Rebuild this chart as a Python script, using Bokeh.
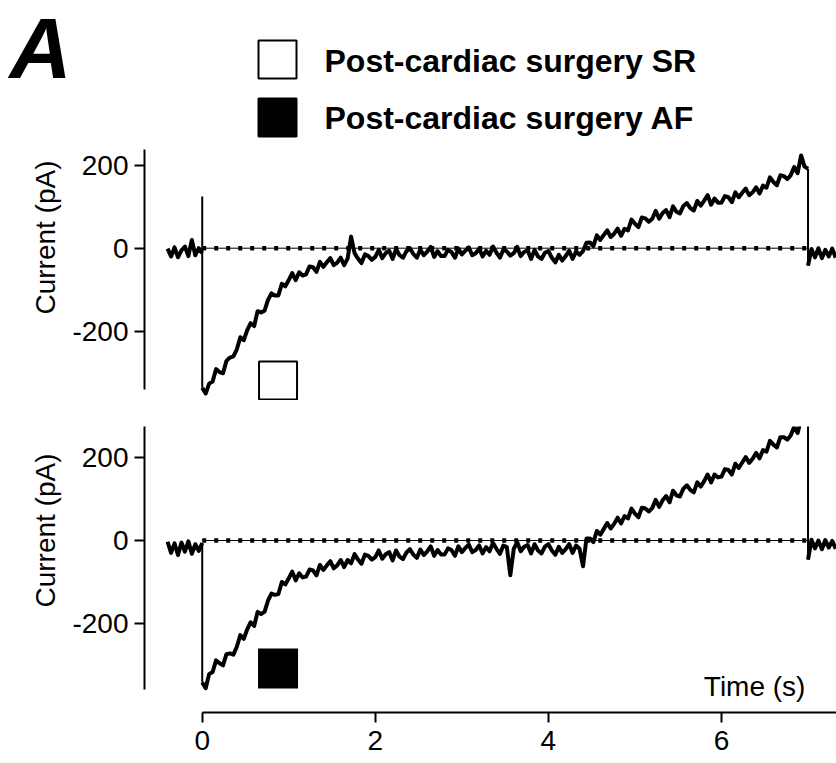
import numpy as np
from bokeh.plotting import figure
from bokeh.layouts import column
from bokeh.models import Range1d, FixedTicker, Label, PrintfTickFormatter
from bokeh.embed import file_html
from bokeh.resources import INLINE
from bokeh.core.properties import value

# ---------------- data ----------------
DT = 0.04
PRE_START = -0.40  # first sample before the test pulse (s)
TAIL_START = 7.00  # end of test pulse (s)

SERIES = ["Post-cardiac surgery SR", "Post-cardiac surgery AF"]

# Post-cardiac surgery SR  (pA)
sr_pre = [-1, -20, 2, -22, -5, 4, -19, 20, -17, 0, -12]
sr_onset = [125]
sr_test = [
    -337, -351, -327, -322, -292, -299, -302, -272, -264, -261,
    -244, -215, -222, -198, -181, -188, -152, -155, -151, -125,
    -109, -114, -114, -86, -92, -77, -60, -77, -58, -66,
    -63, -44, -46, -57, -33, -45, -34, -24, -41, -35,
    -23, -41, -25, 28, -12, -25, -36, -15, -19, -28,
    -21, -4, -24, -12, -6, -26, -2, -17, -23, -7,
    0, -14, -23, -3, -17, -8, 3, -21, -7, -19,
    -19, -4, -9, -23, -1, -15, -6, 2, -17, -12,
    -1, -20, -6, -16, 4, -11, -23, -3, -8, -18,
    -12, 3, -19, -9, -5, -26, -4, -20, -26, -11,
    -7, -23, -34, -16, -30, -19, -6, -26, -8, -16,
    -7, 13, 14, 5, 31, 20, 32, 43, 27, 35,
    47, 30, 47, 43, 69, 59, 51, 74, 72, 64,
    71, 90, 71, 85, 92, 75, 101, 88, 84, 102,
    109, 97, 91, 114, 103, 115, 128, 105, 120, 110,
    110, 126, 123, 111, 135, 123, 134, 144, 128, 135,
    147, 132, 151, 146, 171, 160, 152, 176, 174, 167,
    176, 196, 181, 224, 197, 192,
]
sr_tail = [-42, -2, -22, 0, -24, -4, -20, -1, -23]

# Post-cardiac surgery AF  (pA)
af_pre = [-3, -30, -7, -35, -5, -27, -2, -32, -9, -25, -6]
af_onset = []
af_test = [
    -342, -356, -322, -317, -289, -296, -301, -274, -272, -275,
    -256, -228, -237, -214, -197, -206, -172, -177, -172, -145,
    -128, -131, -129, -100, -106, -91, -75, -96, -79, -89,
    -87, -70, -72, -84, -59, -71, -60, -50, -67, -60,
    -47, -64, -47, -55, -33, -46, -56, -34, -37, -46,
    -40, -24, -44, -33, -28, -48, -24, -39, -45, -29,
    -21, -34, -42, -22, -35, -26, -14, -37, -23, -34,
    -34, -19, -23, -37, -14, -28, -18, -10, -28, -23,
    -12, -31, -16, -26, -6, -20, -32, -12, -16, -84,
    -20, -4, -26, -15, -11, -31, -9, -24, -31, -15,
    -9, -24, -34, -15, -30, -21, -9, -30, -12, -20,
    -62, 5, 5, -4, 23, 14, 28, 42, 29, 40,
    55, 41, 59, 53, 77, 65, 56, 79, 77, 70,
    78, 98, 81, 97, 107, 92, 120, 109, 106, 125,
    133, 122, 116, 140, 130, 143, 159, 140, 159, 152,
    154, 172, 170, 159, 185, 175, 188, 201, 187, 197,
    211, 198, 218, 214, 240, 231, 224, 249, 249, 243,
    253, 274, 259, 293, 287, 281,
]
af_tail = [-46, 2, -19, 0, -21, 1, -17, -1, -20]

ZERO_T = [0.0, 7.0]
ZERO_V = [0, 0]

X_TICKS = [0, 2, 4, 6]
Y_TICKS = [-200, 0, 200]

# ---------------- helpers ----------------
FONT = "Liberation Sans"
W = 836


def segments(pre, onset, test, tail):
    """Noisy recorded stretches (drawn thick) and the fast voltage-step
    transitions between them (drawn thin)."""
    t_pre = PRE_START + DT * np.arange(len(pre))
    t_test = DT * np.arange(len(test))
    t_tail = TAIL_START + DT * np.arange(len(tail))
    thick_x = [list(t_pre), list(t_test), list(t_tail)]
    thick_y = [list(pre), list(test), list(tail)]
    on_y = [pre[-1]] + list(onset) + [test[0]]
    thin_x = [[0.0] * len(on_y), [TAIL_START, TAIL_START]]
    thin_y = [on_y, [test[-1], tail[0]]]
    return thick_x, thick_y, thin_x, thin_y


def style_axis(ax, bounds, ticks):
    ax.bounds = bounds
    ax.ticker = FixedTicker(ticks=ticks)
    ax.formatter = PrintfTickFormatter(format="%d")
    ax.axis_line_width = 2
    ax.major_tick_line_width = 2
    ax.major_tick_out = 10
    ax.major_tick_in = 0
    ax.minor_tick_out = 0
    ax.minor_tick_in = 0
    ax.major_label_text_font = FONT
    ax.major_label_text_font_size = "28px"
    ax.major_label_text_color = "black"
    ax.axis_line_color = "black"
    ax.major_tick_line_color = "black"


def panel(height, y_range, border_top, border_bottom, x_range, with_xaxis, title_offset):
    p = figure(width=W, height=height, x_range=x_range, y_range=y_range,
               output_backend="svg", toolbar_location=None,
               x_axis_location="below" if with_xaxis else None,
               title="Current (pA)", title_location="left",
               min_border_left=144, min_border_right=0,
               min_border_top=border_top, min_border_bottom=border_bottom)
    p.grid.visible = False
    p.outline_line_color = None
    p.background_fill_color = "white"
    p.border_fill_color = "white"
    p.title.text_font = FONT
    p.title.text_font_size = "28px"
    p.title.text_font_style = "normal"
    p.title.text_color = "black"
    p.title.align = "right"          # end of the rotated text, measured from frame top
    p.title.offset = title_offset
    p.title.standoff = 17
    return p


def draw_trace(p, pre, onset, test, tail):
    tx, ty, nx, ny = segments(pre, onset, test, tail)
    p.line(ZERO_T, ZERO_V, line_color="black", line_width=1)
    p.line(ZERO_T, ZERO_V, line_color="black", line_width=4.5, line_dash="4 8")
    p.multi_line(nx, ny, line_color="black", line_width=2)
    p.multi_line(tx, ty, line_color="black", line_width=4, line_join="round")


x_rng = Range1d(-0.667, 7.329)

# ---------------- header: panel letter + legend ----------------
hdr = figure(width=W, height=140, x_range=Range1d(0, W), y_range=Range1d(140, 0),
             output_backend="svg", toolbar_location=None,
             x_axis_location=None, y_axis_location=None,
             min_border=0)
hdr.grid.visible = False
hdr.outline_line_color = None
hdr.text(x=[9], y=[47], text=["A"], text_font=value(FONT), text_font_style="bold italic",
         text_font_size="86px", text_baseline="middle", text_align="left", text_color="black")
hdr.scatter(x=[277, 277], y=[59, 117], marker="square", size=38,
            fill_color=["white", "black"], line_color="black", line_width=2)
hdr.text(x=[324, 324], y=[60, 117], text=SERIES, text_font=value(FONT),
         text_font_style="bold", text_font_size="32px", text_baseline="middle",
         text_align="left", text_color="black")

# ---------------- top panel: SR ----------------
top = panel(260, Range1d(-367.7, 238.3), 9, 0, x_rng, False, 11)
style_axis(top.yaxis[0], (-342, 238.3), Y_TICKS)
top.yaxis[0].major_label_standoff = 6
draw_trace(top, sr_pre, sr_onset, sr_test, sr_tail)
top.scatter(x=[0.876], y=[-319.4], marker="square", size=38,
            fill_color="white", line_color="black", line_width=2)

# ---------------- bottom panel: AF ----------------
bot = panel(363, Range1d(-414.5, 274.7), 26, 51, x_rng, True, 27)
style_axis(bot.yaxis[0], (-359, 274.7), Y_TICKS)
bot.yaxis[0].major_label_standoff = 6
style_axis(bot.xaxis[0], (0, 7.4), X_TICKS)
bot.xaxis[0].major_label_standoff = 8
draw_trace(bot, af_pre, af_onset, af_test, af_tail)
bot.scatter(x=[0.876], y=[-308.4], marker="square", size=40,
            fill_color="black", line_color="black", line_width=0)
bot.add_layout(Label(x=6.97, y=-351.8, text="Time (s)", text_align="right",
                     text_baseline="middle", text_font=FONT,
                     text_font_size="28px", text_color="black"))

layout = column(hdr, column(top, bot, spacing=0), spacing=0)

open("out.html", "w").write(file_html(layout, INLINE))
